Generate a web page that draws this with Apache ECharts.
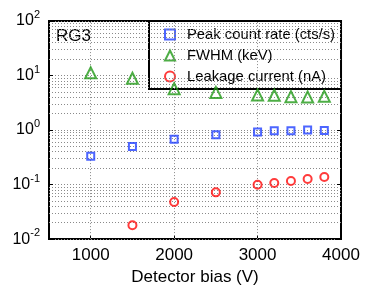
<!DOCTYPE html>
<html><head><meta charset="utf-8">
<script src="https://cdn.jsdelivr.net/npm/echarts@6/dist/echarts.min.js"></script>
<style>html,body{margin:0;padding:0;background:#fff}#c{width:376px;height:291px}</style>
</head><body><div id="c"></div>
<script>
const biasV = [1000,1500,2000,2500,3000,3200,3400,3600,3800];
const peakRate = [0.33,0.50,0.68,0.82,0.92,0.97,0.97,1.0,0.98];
const fwhm = [11.2,8.9,5.75,4.9,4.4,4.35,4.1,4.05,4.15];
const leakBias = [1500,2000,2500,3000,3200,3400,3600,3800];
const leakage = [0.018,0.048,0.072,0.099,0.107,0.116,0.127,0.138];
const seriesNames = ['Peak count rate (cts/s)','FWHM (keV)','Leakage current (nA)'];
const xTicks = [1000,2000,3000,4000];
const xGrid = [1000,2000,3000];
const yMinorGrid = [0.02,0.03,0.04,0.05,0.06,0.07,0.08,0.09,
  0.2,0.3,0.4,0.5,0.6,0.7,0.8,0.9,
  2,3,4,5,6,7,8,9,
  20,30,40,50,60,70,80,90];

const FONT = "'Liberation Sans', Arial, Helvetica, sans-serif";
const gridLine = {color:'#8a8a8a', width:1, type:[1,2]};
const pair = (xs, ys) => xs.map((x,i)=>[x, ys[i]]);

const chart = echarts.init(document.getElementById('c'), null, {renderer:'canvas'});
const hollow = c => ({color:'rgba(0,0,0,0)', borderColor:c, borderWidth:2});

chart.setOption({
  animation:false,
  backgroundColor:'#fff',
  textStyle:{fontFamily:FONT},
  grid:{left:49, right:35, top:21, bottom:42, show:true, borderColor:'#000', borderWidth:2, backgroundColor:'transparent'},
  xAxis:[{
    type:'value', min:500, max:4000,
    axisLine:{show:false},
    axisTick:{show:true, inside:true, length:4, customValues:xTicks, lineStyle:{color:'#000'}},
    axisLabel:{customValues:xTicks, color:'#000', fontSize:17, fontFamily:FONT, margin:8, formatter: v => String(v)},
    splitLine:{show:false},
    name:'Detector bias (V)', nameLocation:'middle', nameGap:29,
    nameTextStyle:{color:'#000', fontSize:17, fontFamily:FONT}
  }],
  yAxis:[{
    type:'log', logBase:10, min:0.01, max:100,
    axisLine:{show:false},
    axisTick:{show:true, inside:true, length:4, lineStyle:{color:'#000'}},
    splitLine:{show:true, lineStyle:gridLine},
    axisLabel:{color:'#000', margin:9, fontFamily:FONT,
      formatter: v => '{a|10}{b|' + Math.round(Math.log10(v)) + '}',
      rich:{a:{fontSize:16, fontFamily:FONT, color:'#000'}, b:{fontSize:11, fontFamily:FONT, color:'#000', padding:[0,0,12,0]}}}
  },{
    type:'log', logBase:10, min:0.01, max:100, position:'right',
    axisLine:{show:false},
    axisTick:{show:true, inside:true, length:4, lineStyle:{color:'#000'}},
    axisLabel:{show:false}, splitLine:{show:false}
  }],
  legend:{
    data:seriesNames, orient:'vertical', left:149, top:21,
    padding:[6,6,5,15], itemGap:6, itemWidth:10, itemHeight:10,
    backgroundColor:'#fff', borderColor:'#000', borderWidth:2,
    textStyle:{color:'#000', fontSize:14.8, fontFamily:FONT, lineHeight:14, padding:[0,0,0,7]},
    selectedMode:false
  },
  graphic:[{type:'text', left:56, top:28, style:{text:'RG3', font:'17px '+FONT, fill:'#000'}}],
  series:[
    {name:seriesNames[0], type:'scatter', data:pair(biasV, peakRate), symbol:'rect', symbolSize:7,
     itemStyle:hollow('#2040ff'), z:5,
     markLine:{silent:true, symbol:'none', label:{show:false}, lineStyle:gridLine, animation:false,
       data:[...xGrid.map(v=>({xAxis:v})), ...yMinorGrid.map(v=>({yAxis:v}))]}},
    {name:seriesNames[1], type:'scatter', data:pair(biasV, fwhm), symbol:'triangle', symbolSize:11,
     itemStyle:hollow('#229a18'), z:5},
    {name:seriesNames[2], type:'scatter', data:pair(leakBias, leakage), symbol:'circle', symbolSize:8,
     itemStyle:hollow('#ff0a0a'), z:5}
  ]
});
</script>
</body></html>
